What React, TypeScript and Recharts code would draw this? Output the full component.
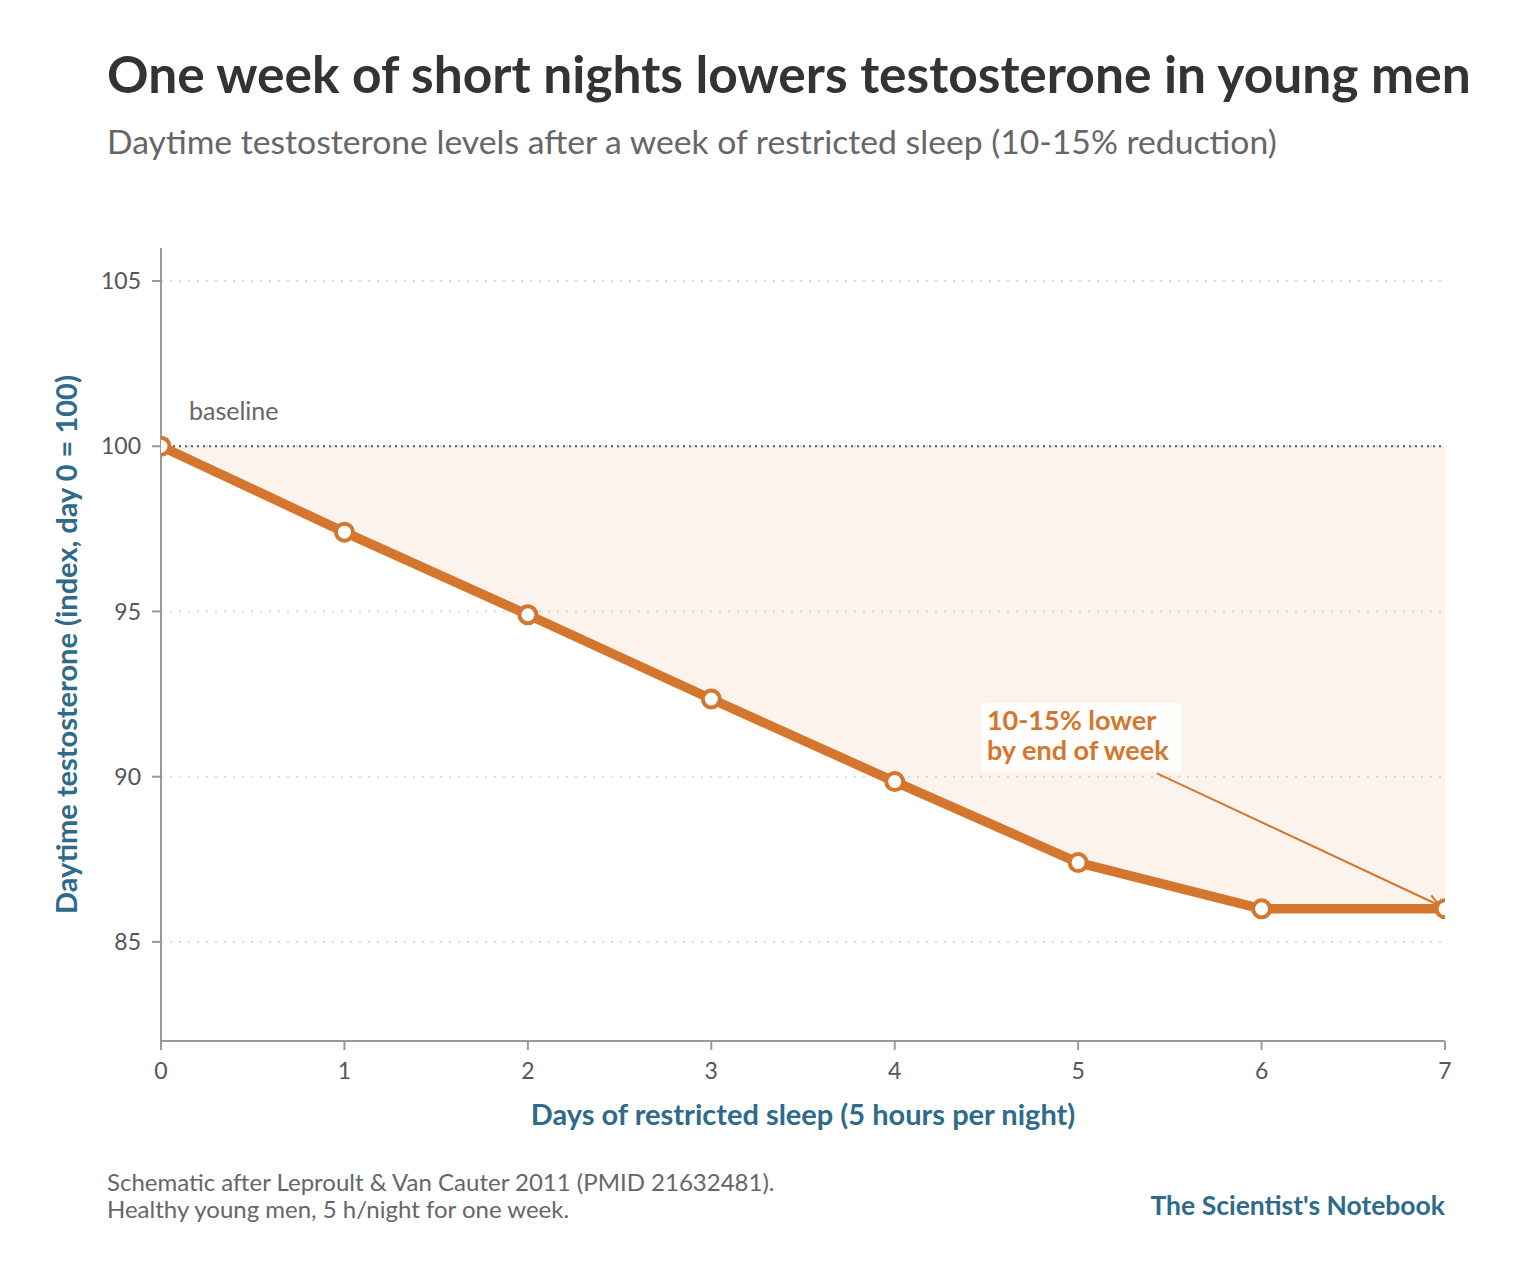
import React from "react";
import {
  ComposedChart,
  Line,
  Area,
  XAxis,
  YAxis,
  CartesianGrid,
  ReferenceLine,
  ReferenceDot,
} from "recharts";

const days = [0, 1, 2, 3, 4, 5, 6, 7];
const testosterone = [100, 97.4, 94.9, 92.35, 89.85, 87.4, 86.0, 86.0];
const yTicks = [85, 90, 95, 100, 105];
const baseline = 100;

const ORANGE = "#d4762e";
const BLUE = "#2e6b8a";
const FONT = "Lato, 'Open Sans', sans-serif";

const data = days.map((d, i) => ({
  day: d,
  value: testosterone[i],
  band: [testosterone[i], baseline],
}));

function Arrow(props: any) {
  const { x1, y1, x2, y2 } = props;
  const ang = Math.atan2(y2 - y1, x2 - x1);
  const len = 13;
  const a1 = ang + Math.PI - 0.45;
  const a2 = ang + Math.PI + 0.45;
  return (
    <g>
      <line x1={x1} y1={y1} x2={x2} y2={y2} stroke={ORANGE} strokeWidth={2} />
      <path
        d={`M${x2 + len * Math.cos(a1)},${y2 + len * Math.sin(a1)} L${x2},${y2} L${x2 + len * Math.cos(a2)},${y2 + len * Math.sin(a2)}`}
        fill="none"
        stroke={ORANGE}
        strokeWidth={2}
      />
    </g>
  );
}

function NoteBox(props: any) {
  const { cx, cy } = props;
  return (
    <g>
      <rect x={cx} y={cy} width={201} height={68} rx={4} fill="#ffffff" fillOpacity={0.85} />
      <text x={cx + 6} y={cy + 27} fill={ORANGE} fontSize={27} fontWeight={700} fontFamily={FONT}>
        10-15% lower
      </text>
      <text x={cx + 6} y={cy + 57} fill={ORANGE} fontSize={27} fontWeight={700} fontFamily={FONT}>
        by end of week
      </text>
    </g>
  );
}

export default function App() {
  return (
    <div style={{ position: "relative", width: 1510, height: 1257, background: "#fff", fontFamily: FONT }}>
      <div style={{ position: "absolute", left: 99, top: 40, fontSize: 51.5, lineHeight: "51px", fontWeight: 700, color: "#333", whiteSpace: "nowrap" }}>
        One week of short nights lowers testosterone in young men
      </div>
      <div style={{ position: "absolute", left: 99, top: 117, fontSize: 33.7, lineHeight: "33px", color: "#666", whiteSpace: "nowrap" }}>
        Daytime testosterone levels after a week of restricted sleep (10-15% reduction)
      </div>
      <ComposedChart
        width={1510}
        height={1257}
        data={data}
        margin={{ top: 240, right: 73, bottom: 194, left: 93 }}
      >
        <CartesianGrid
          horizontal
          vertical={false}
          horizontalValues={yTicks}
          stroke="#dcdcdc"
          strokeWidth={2}
          strokeDasharray="2 7"
        />
        <XAxis
          dataKey="day"
          type="number"
          domain={[0, 7]}
          ticks={days}
          allowDataOverflow
          height={30}
          stroke="#999"
          strokeWidth={2}
          tickSize={9}
          tickMargin={13}
          tick={{ fill: "#555", fontSize: 23, fontFamily: FONT }}
          label={{
            content: (p: any) => {
              const vb = p.viewBox;
              return (
                <text x={vb.x + vb.width / 2} y={1117} textAnchor="middle" fill={BLUE} fontSize={29} fontWeight={700} fontFamily={FONT}>
                  Days of restricted sleep (5 hours per night)
                </text>
              );
            },
          }}
        />
        <YAxis
          type="number"
          domain={[82, 106]}
          ticks={yTicks}
          allowDataOverflow
          width={60}
          stroke="#999"
          strokeWidth={2}
          tickSize={9}
          tickMargin={11}
          tick={{ fill: "#555", fontSize: 23, fontFamily: FONT }}
          label={{
            content: (p: any) => {
              const vb = p.viewBox;
              const cx = 57;
              const cy = vb.y + vb.height / 2;
              return (
                <text x={cx} y={cy} transform={`rotate(-90 ${cx} ${cy})`} textAnchor="middle" dominantBaseline="central" fill={BLUE} fontSize={29} fontWeight={700} fontFamily={FONT}>
                  Daytime testosterone (index, day 0 = 100)
                </text>
              );
            },
          }}
        />
        <Area
          dataKey="band"
          stroke="none"
          fill={ORANGE}
          fillOpacity={0.09}
          isAnimationActive={false}
        />
        <ReferenceLine
          y={baseline}
          stroke="#555"
          strokeWidth={2}
          strokeDasharray="2 4"
          label={{
            content: (p: any) => {
              const vb = p.viewBox;
              return (
                <text x={vb.x + 28} y={vb.y - 26} fill="#666" fontSize={25} fontFamily={FONT}>
                  baseline
                </text>
              );
            },
          }}
        />
        <Line
          dataKey="value"
          stroke={ORANGE}
          strokeWidth={9.5}
          strokeLinejoin="round"
          dot={{ r: 8.5, fill: "#fff", stroke: ORANGE, strokeWidth: 4, clipDot: true }}
          activeDot={false}
          isAnimationActive={false}
        />
        <ReferenceLine
          segment={[
            { x: 5.43, y: 90.1 },
            { x: 6.97, y: 86.1 },
          ]}
          shape={Arrow}
        />
        <ReferenceDot x={4.47} y={92.22} shape={NoteBox} />
      </ComposedChart>
      <div style={{ position: "absolute", left: 99, top: 1160, fontSize: 24, lineHeight: "27px", color: "#666", whiteSpace: "nowrap" }}>
        Schematic after Leproult &amp; Van Cauter 2011 (PMID 21632481).
        <br />
        Healthy young men, 5 h/night for one week.
      </div>
      <div style={{ position: "absolute", right: 73, top: 1184, fontSize: 26.5, lineHeight: "26px", fontWeight: 700, color: BLUE, whiteSpace: "nowrap" }}>
        The Scientist's Notebook
      </div>
    </div>
  );
}
